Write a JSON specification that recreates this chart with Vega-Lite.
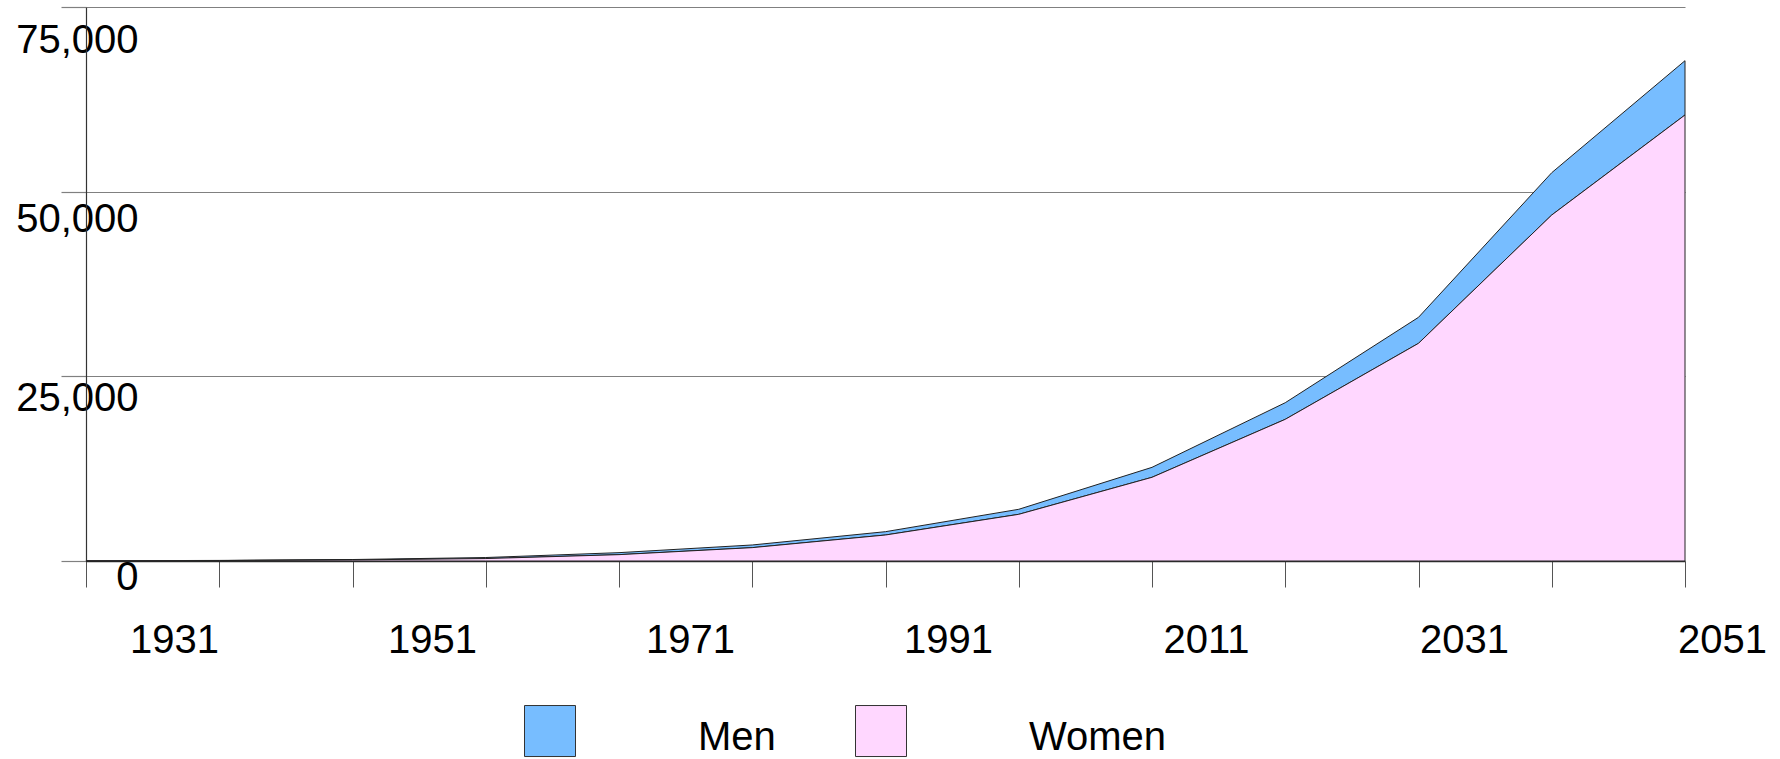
{
  "$schema": "https://vega.github.io/schema/vega-lite/v6.json",
  "autosize": {"type": "none"},
  "padding": {"left": 86, "top": 7, "right": 95, "bottom": 198},
  "width": 1599,
  "height": 554,
  "background": "white",
  "config": {"view": {"stroke": null}, "font": "Liberation Sans"},
  "data": {
    "values": [
      {"year": 1931, "sex": "Men", "value": 10},
      {"year": 1941, "sex": "Men", "value": 20},
      {"year": 1951, "sex": "Men", "value": 50},
      {"year": 1961, "sex": "Men", "value": 140},
      {"year": 1971, "sex": "Men", "value": 270},
      {"year": 1981, "sex": "Men", "value": 360},
      {"year": 1991, "sex": "Men", "value": 450},
      {"year": 2001, "sex": "Men", "value": 680},
      {"year": 2011, "sex": "Men", "value": 1350},
      {"year": 2021, "sex": "Men", "value": 2250},
      {"year": 2031, "sex": "Men", "value": 3520},
      {"year": 2041, "sex": "Men", "value": 5730},
      {"year": 2051, "sex": "Men", "value": 7350},
      {"year": 1931, "sex": "Women", "value": 20},
      {"year": 1941, "sex": "Women", "value": 60},
      {"year": 1951, "sex": "Women", "value": 150},
      {"year": 1961, "sex": "Women", "value": 330},
      {"year": 1971, "sex": "Women", "value": 860},
      {"year": 1981, "sex": "Women", "value": 1810},
      {"year": 1991, "sex": "Women", "value": 3520},
      {"year": 2001, "sex": "Women", "value": 6320},
      {"year": 2011, "sex": "Women", "value": 11330},
      {"year": 2021, "sex": "Women", "value": 19180},
      {"year": 2031, "sex": "Women", "value": 29470},
      {"year": 2041, "sex": "Women", "value": 46840},
      {"year": 2051, "sex": "Women", "value": 60380}
    ]
  },
  "mark": {"type": "area", "stroke": "#222222", "strokeWidth": 1, "opacity": 1, "interpolate": "linear"},
  "encoding": {
    "x": {
      "field": "year",
      "type": "quantitative",
      "scale": {"domain": [1931, 2051], "nice": false, "zero": false},
      "axis": {
        "title": null,
        "grid": false,
        "values": [1931, 1941, 1951, 1961, 1971, 1981, 1991, 2001, 2011, 2021, 2031, 2041, 2051],
        "labelExpr": "(datum.value - 1931) % 20 == 0 ? '' + datum.value : ''",
        "labelFont": "Liberation Sans",
        "labelFontSize": 40,
        "labelColor": "#000000",
        "labelAlign": "center",
        "labelBaseline": "alphabetic",
        "labelPadding": 65,
        "labelOffset": {"expr": "88 - 0.425 * (datum.value - 1931)"},
        "labelFlush": false,
        "labelBound": false,
        "labelOverlap": false,
        "tickSize": 26,
        "tickColor": "#555555",
        "tickWidth": 1,
        "domainColor": "#333333",
        "domainWidth": 1.5
      }
    },
    "y": {
      "field": "value",
      "type": "quantitative",
      "stack": "zero",
      "scale": {"domain": [0, 75000], "nice": false},
      "axis": {
        "title": null,
        "values": [0, 25000, 50000, 75000],
        "format": ",d",
        "grid": true,
        "gridColor": "#808080",
        "gridWidth": 1.2,
        "labelFont": "Liberation Sans",
        "labelFontSize": 40,
        "labelColor": "#000000",
        "labelAlign": "right",
        "labelBaseline": "alphabetic",
        "labelPadding": -77,
        "labelOffset": {"expr": "28 + 17 * datum.value / 75000"},
        "labelFlush": false,
        "labelBound": false,
        "labelOverlap": false,
        "tickSize": 25,
        "tickColor": "#808080",
        "tickWidth": 1.2,
        "domainColor": "#333333",
        "domainWidth": 1.2
      }
    },
    "color": {
      "field": "sex",
      "type": "nominal",
      "scale": {"domain": ["Men", "Women"], "range": ["#77BDFF", "#FFD7FF"]},
      "legend": {
        "title": null,
        "orient": "none",
        "direction": "horizontal",
        "legendX": 438,
        "legendY": 717,
        "padding": 0,
        "symbolType": "M-1,-1.763H1V0.237H-1Z",
        "symbolSize": 2601,
        "symbolStrokeColor": "#333333",
        "symbolStrokeWidth": 1,
        "symbolOpacity": 1,
        "labelFont": "Liberation Sans",
        "labelFontSize": 40,
        "labelColor": "#000000",
        "labelBaseline": "alphabetic",
        "labelOffset": 122,
        "columnPadding": 77,
        "labelLimit": 400
      }
    }
  }
}
